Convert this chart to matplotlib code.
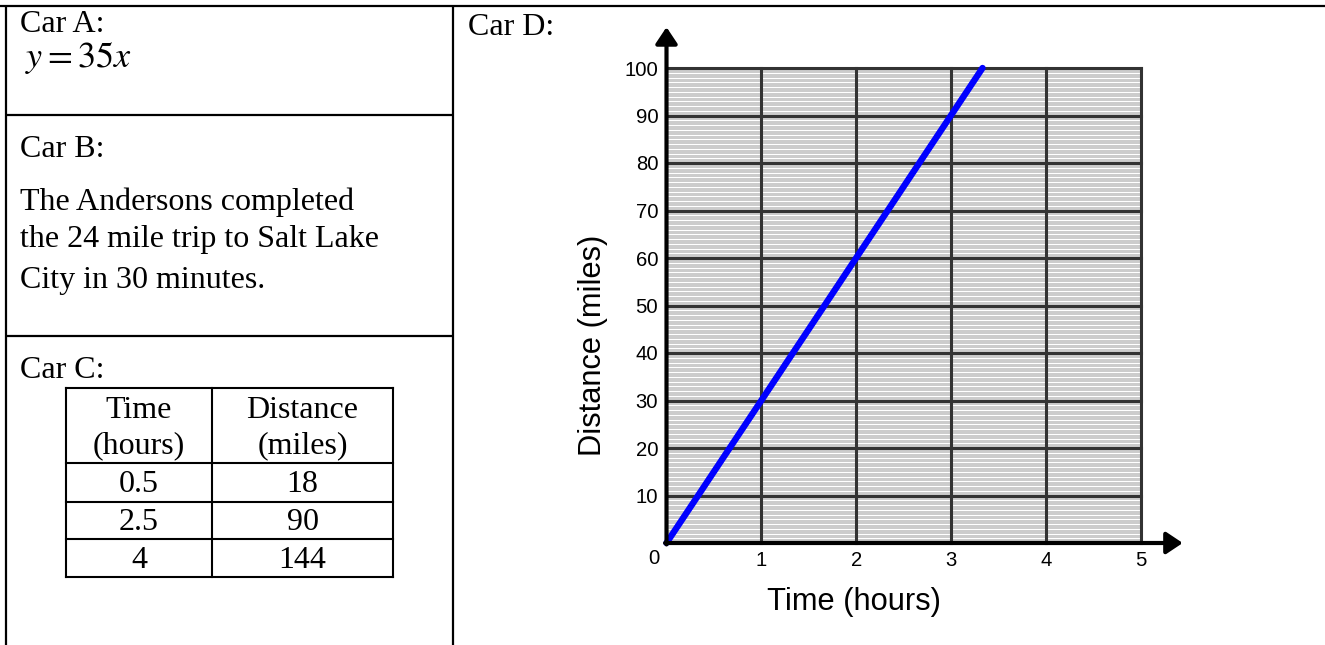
import matplotlib
matplotlib.use("Agg")
import matplotlib.pyplot as plt

# ---------------- data ----------------
car_a_title = "Car A:"
car_a_equation = r"$y=35x$"
car_b_title = "Car B:"
car_b_lines = ["The Andersons completed",
               "the 24 mile trip to Salt Lake",
               "City in 30 minutes."]
car_c_title = "Car C:"
car_c_header_time = ["Time", "(hours)"]
car_c_header_dist = ["Distance", "(miles)"]
car_c_time = ["0.5", "2.5", "4"]
car_c_distance = ["18", "90", "144"]
car_d_title = "Car D:"
car_d_time = [0, 3.33]
car_d_distance = [0, 100]
x_ticks = [1, 2, 3, 4, 5]
y_ticks = [10, 20, 30, 40, 50, 60, 70, 80, 90, 100]
x_label = "Time (hours)"
y_label = "Distance (miles)"

# ---------------- figure ----------------
W, H = 1325, 645
fig = plt.figure(figsize=(W / 100, H / 100), dpi=100)
plt.rcParams["mathtext.fontset"] = "stix"

SERIF = ["Liberation Serif", "DejaVu Serif"]
SANS = ["Liberation Sans", "DejaVu Sans"]
FS_SERIF = 23
FS_TICK = 14.6
FS_LABEL = 22.2

ov = fig.add_axes([0, 0, 1, 1], zorder=0)
ov.set_xlim(0, W)
ov.set_ylim(H, 0)
ov.axis("off")

blw = 1.6
# outer frame lines
ov.plot([0, W], [5.5, 5.5], color="black", lw=blw, solid_capstyle="butt")
ov.plot([6, 6], [5.5, H], color="black", lw=blw, solid_capstyle="butt")
ov.plot([453, 453], [5.5, H], color="black", lw=blw, solid_capstyle="butt")
ov.plot([6, 453], [115, 115], color="black", lw=blw, solid_capstyle="butt")
ov.plot([6, 453], [336, 336], color="black", lw=blw, solid_capstyle="butt")

# Car A
ov.text(20, 32, car_a_title, fontsize=FS_SERIF, family=SERIF, va="baseline")
ov.text(25, 67, car_a_equation, fontsize=26, va="baseline")

# Car B
ov.text(20, 157, car_b_title, fontsize=FS_SERIF, family=SERIF, va="baseline")
for s, yb in zip(car_b_lines, [210, 247, 288]):
    ov.text(20, yb, s, fontsize=FS_SERIF, family=SERIF, va="baseline")

# Car C
ov.text(20, 378, car_c_title, fontsize=FS_SERIF, family=SERIF, va="baseline")
tx0, tx1, tx2 = 66, 212, 393
row_lines = [388, 463, 502, 539, 577]
tlw = 1.5
for yy in row_lines:
    ov.plot([tx0, tx2], [yy, yy], color="black", lw=tlw, solid_capstyle="projecting")
for xx in [tx0, tx1, tx2]:
    ov.plot([xx, xx], [row_lines[0], row_lines[-1]], color="black", lw=tlw,
            solid_capstyle="projecting")
cx1, cx2 = (tx0 + tx1) / 2, (tx1 + tx2) / 2
for s, yb in zip(car_c_header_time, [418, 453]):
    ov.text(cx1, yb, s, fontsize=FS_SERIF, family=SERIF, va="baseline", ha="center")
for s, yb in zip(car_c_header_dist, [418, 453]):
    ov.text(cx2, yb, s, fontsize=FS_SERIF, family=SERIF, va="baseline", ha="center")
for t, d, yb in zip(car_c_time, car_c_distance, [492, 530, 568]):
    ov.text(cx1, yb, t, fontsize=FS_SERIF, family=SERIF, va="baseline", ha="center")
    ov.text(cx2, yb, d, fontsize=FS_SERIF, family=SERIF, va="baseline", ha="center")

# Car D
ov.text(468, 35, car_d_title, fontsize=FS_SERIF, family=SERIF, va="baseline")

x0px, x5px, y0px, y100px = 666.5, 1141, 543, 68
ax = fig.add_axes([x0px / W, (H - y0px) / H, (x5px - x0px) / W, (y0px - y100px) / H],
                  zorder=2)
ax.set_xlim(0, 5)
ax.set_ylim(0, 100)
ax.set_facecolor("#cccccc")
for v in range(1, 100):
    if v % 10:
        ax.axhline(v, color="white", lw=0.72, zorder=1)
ax.set_xticks(x_ticks)
ax.set_yticks(y_ticks)
ax.grid(True, color="#333333", lw=2.2, zorder=1.5)
for gl in ax.get_xgridlines() + ax.get_ygridlines():
    gl.set_clip_on(False)
    gl.set_solid_capstyle("projecting")
for sp in ax.spines.values():
    sp.set_visible(False)
ax.tick_params(length=0, labelsize=FS_TICK)
ax.tick_params(axis="x", pad=6)
ax.tick_params(axis="y", pad=6)
for lab in ax.get_xticklabels() + ax.get_yticklabels():
    lab.set_family(SANS)

ax.plot(car_d_time, car_d_distance, color="#0000ff", lw=4.6,
        solid_capstyle="round", clip_on=False, zorder=3)

arrow_style = "-|>,head_length=0.45,head_width=0.3"
ax.annotate("", xy=(0, 108.6), xytext=(0, -0.3), annotation_clip=False,
            arrowprops=dict(arrowstyle=arrow_style, lw=3, color="black",
                            mutation_scale=22, shrinkA=0, shrinkB=0), zorder=4)
ax.annotate("", xy=(5.44, 0), xytext=(-0.015, 0), annotation_clip=False,
            arrowprops=dict(arrowstyle=arrow_style, lw=3, color="black",
                            mutation_scale=22, shrinkA=0, shrinkB=0), zorder=4)

ov.text(654, 558, "0", fontsize=FS_TICK, family=SANS, ha="center", va="center")
ov.text(854, 610, x_label, fontsize=FS_LABEL, family=SANS, ha="center", va="baseline")
ov.text(593, 345, y_label, fontsize=FS_LABEL, family=SANS, ha="center", va="center",
        rotation=90)

fig.savefig("out.png", dpi=100)
